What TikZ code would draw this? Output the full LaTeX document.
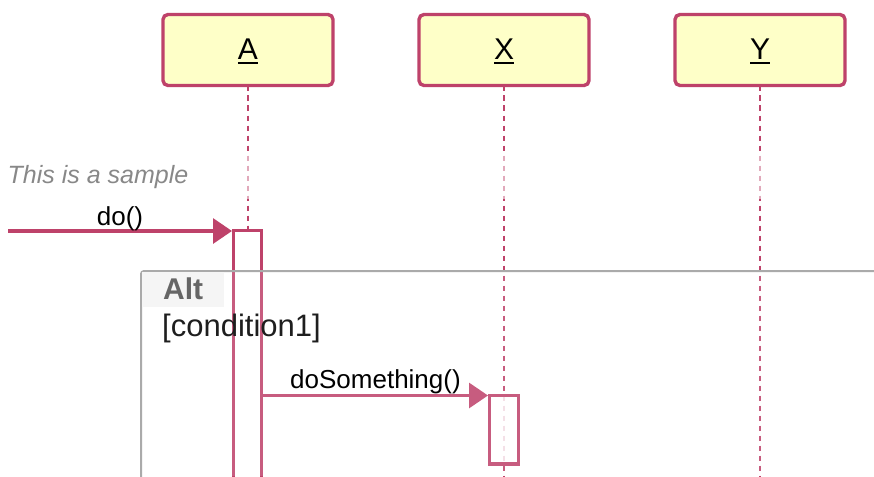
\documentclass[tikz,border=0pt]{standalone}
\usepackage{fontspec}
\setmainfont{Liberation Sans}
\usetikzlibrary{arrows.meta}
\pgfdeclarelayer{bg}
\pgfsetlayers{bg,main}
\definecolor{crim}{RGB}{190,66,106}
\definecolor{boxfill}{RGB}{254,255,200}
\definecolor{altgray}{RGB}{170,170,170}
\definecolor{labelbg}{RGB}{245,245,245}
\definecolor{notegray}{RGB}{136,136,136}
\definecolor{altlab}{RGB}{102,102,102}
\definecolor{condtext}{RGB}{30,30,30}
\newcommand{\myul}[1]{{\setbox0\hbox{#1}\rlap{\rule[-4pt]{\wd0}{2pt}}#1}}
\begin{document}
\begin{tikzpicture}[x=1pt,y=-1pt,
  participant/.style={draw=crim, line width=3.4pt, fill=boxfill, rounded corners=5pt,
    minimum width=170pt, minimum height=71pt, inner sep=0pt, outer sep=0pt},
  partlabel/.style={anchor=base, inner sep=0pt, font=\fontsize{30}{36}\selectfont},
  lifeline/.style={crim, line width=2pt, dash pattern=on 5.5pt off 4.5pt},
  fade/.style={white, opacity=0.55, line width=3pt},
  activation/.style={draw=crim, line width=3.2pt, inner sep=0pt, outer sep=0pt, anchor=north west},
  msg/.style={crim, line width=3.2pt, -{Triangle[length=19pt,width=25pt]}},
  msglabel/.style={inner sep=0pt, font=\fontsize{26}{31}\selectfont},
]
\useasboundingbox (0,0) rectangle (874,476);

% participants
\node[participant] (A) at (248,50) {};
\node[participant] (X) at (504,50) {};
\node[participant] (Y) at (760,50) {};
\node[partlabel] (Alab) at (248,60) {\myul{A}};
\node[partlabel] (Xlab) at (504,60) {\myul{X}};
\node[partlabel] (Ylab) at (760,60) {\myul{Y}};

% lifeline ends
\coordinate (Abot) at (248,480);
\coordinate (Xbot) at (504,480);
\coordinate (Ybot) at (760,480);

\begin{pgfonlayer}{bg}
\draw[lifeline] (A.south) -- (Abot);
\draw[lifeline] (X.south) -- (Xbot);
\draw[lifeline] (Y.south) -- (Ybot);
\draw[fade] (248,152) -- (248,199);
\draw[fade] (504,152) -- (504,199);
\draw[fade] (760,152) -- (760,199);
\end{pgfonlayer}

% activations
\node[activation, fill=white, minimum width=28pt, minimum height=260pt] (actA) at (233.5,230.5) {};
\node[activation, fill=white, fill opacity=0.82, minimum width=29pt, minimum height=68.5pt] (actX) at (489.5,395.5) {};

% messages
\coordinate (start) at (8,231);
\draw[msg, shorten >=1.5pt] (start) -- (start -| actA.north west);
\draw[msg, shorten >=1.5pt] (actA.north east |- actX.north west) -- (actX.north west);

% alt group
\fill[white, opacity=0.14] (141,271) rectangle (874,476);
\draw[altgray, line width=2pt, rounded corners=3pt] (141,480) -- (141,271) -- (880,271);
\fill[labelbg] (142,272) rectangle (224,306.5);
\node[anchor=base west, inner sep=0pt, text=altlab, font=\fontsize{30}{36}\selectfont\bfseries] (altl) at (163,299) {Alt};
\node[anchor=base west, inner sep=0pt, text=condtext, font=\fontsize{31}{37}\selectfont] (cond) at (162,336) {[condition1]};

% labels
\node[msglabel, anchor=base, text=notegray, font=\fontsize{25}{30}\selectfont\itshape] (note) at (98,183) {This is a sample};
\node[msglabel, anchor=base] (l1) at (120,225) {do()};
\node[msglabel, anchor=base west] (l2) at (290,388) {doSomething()};
\end{tikzpicture}
\end{document}
